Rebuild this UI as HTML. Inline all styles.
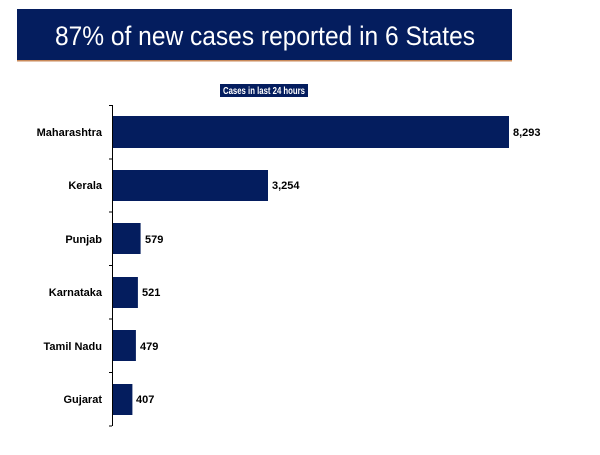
<!DOCTYPE html>
<html><head><meta charset="utf-8"><style>
body{margin:0;width:600px;height:450px;background:#fff;overflow:hidden;font-family:"Liberation Sans",sans-serif;}
</style></head><body>
<svg width="600" height="450" xmlns="http://www.w3.org/2000/svg" font-family="Liberation Sans, sans-serif">
<rect x="17" y="9" width="495" height="51" fill="#041d5e"/>
<rect x="17" y="60" width="495" height="1.5" fill="#c98a5a"/>
<text x="265" y="45" text-anchor="middle" fill="#fff" font-size="27" textLength="420" lengthAdjust="spacingAndGlyphs">87% of new cases reported in 6 States</text>
<rect x="220" y="84" width="88" height="13" fill="#041d5e"/>
<text x="264" y="94" text-anchor="middle" fill="#fff" font-size="10" font-weight="bold" textLength="82" lengthAdjust="spacingAndGlyphs">Cases in last 24 hours</text>
<g stroke="#000" stroke-width="1">
<line x1="112.5" y1="105" x2="112.5" y2="426"/>
<line x1="109" y1="105.5" x2="112" y2="105.5"/><line x1="109" y1="159" x2="112" y2="159"/>
<line x1="109" y1="212" x2="112" y2="212"/><line x1="109" y1="265.5" x2="112" y2="265.5"/>
<line x1="109" y1="319" x2="112" y2="319"/><line x1="109" y1="372.5" x2="112" y2="372.5"/>
<line x1="109" y1="426" x2="112" y2="426"/>
</g>
<g fill="#041d5e">
<rect x="113" y="116" width="396" height="32"/>
<rect x="113" y="170" width="155" height="31"/>
<rect x="113" y="223" width="27.6" height="31"/>
<rect x="113" y="277" width="24.9" height="31"/>
<rect x="113" y="330" width="22.9" height="31"/>
<rect x="113" y="384" width="19.4" height="31"/>
</g>
<g font-size="11" font-weight="bold" fill="#000">
<g text-anchor="end">
<text x="102" y="136">Maharashtra</text><text x="102" y="189">Kerala</text>
<text x="102" y="243">Punjab</text><text x="102" y="296">Karnataka</text>
<text x="102" y="350">Tamil Nadu</text><text x="102" y="403">Gujarat</text>
</g>
<text x="513" y="136">8,293</text><text x="272" y="189">3,254</text>
<text x="145" y="243">579</text><text x="142" y="296">521</text>
<text x="140" y="350">479</text><text x="136" y="403">407</text>
</g>
</svg>
</body></html>
